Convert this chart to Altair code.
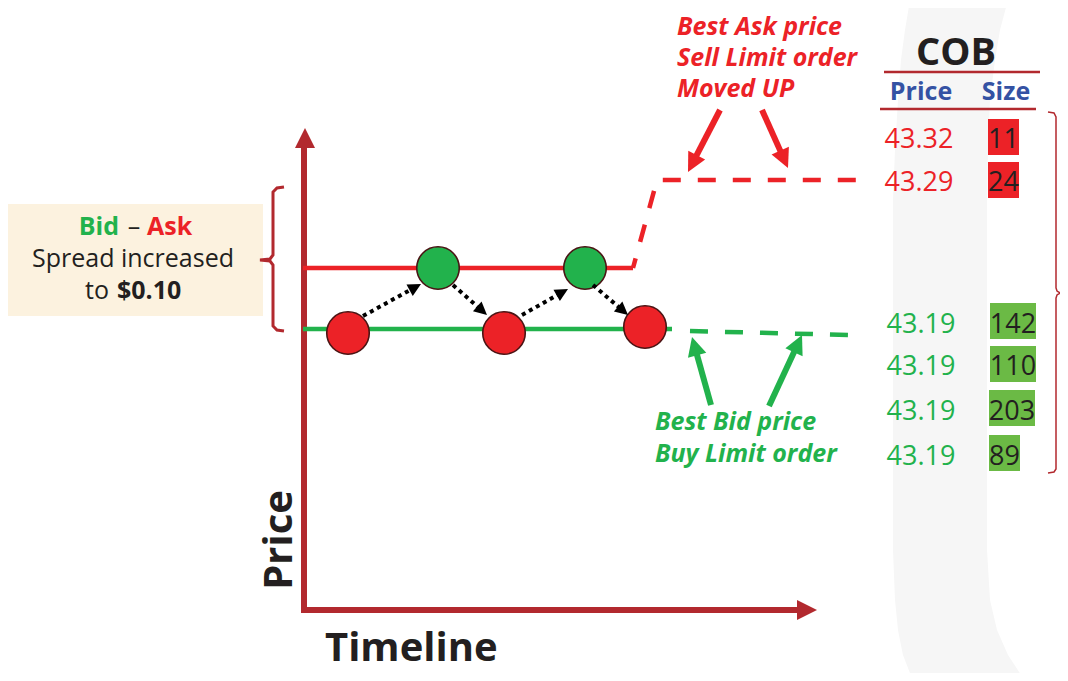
import altair as alt
import pandas as pd
import numpy as np

# ---------------- colours ----------------
RED = "#ec2227"
GREEN = "#22b24c"
BOX_GREEN = "#6bba45"
AXIS_RED = "#b2292e"
BLUE = "#3452a3"
DARK = "#231f20"
BEIGE = "#fcf2df"
BAND = "#f6f6f6"
FONT = "Open Sans"

# ---------------- data (diagram units = picture pixels) ----------------
# light background band on the right
band_y = [0, 30, 60, 100, 150, 200, 550, 600, 630, 655, 681]
band_left = [910, 905, 901, 898, 895, 893, 893, 895, 898, 903, 913]
band_right = [1008, 1000, 995, 990, 988, 987, 987, 990, 997, 1008, 1025]

# price / time axes
axis_x = [304, 304, 798]
axis_y = [146, 610, 610]
axis_tip_x = [305, 817]
axis_tip_y = [128, 610]
axis_tip_angle = [0, 90]

# best ask (old level solid, new level dashed) and best bid
ask_old_x = [303, 633]
ask_old_y = [268, 268]
ask_new_x = [633, 657, 857]
ask_new_y = [268, 180, 180]
bid_old_x = [303, 672]
bid_old_y = [329, 329]
bid_new_x = [690, 848]
bid_new_y = [331, 335]

# order circles
order_x = [348, 438, 504, 585, 645]
order_y = [333, 268, 333, 268, 327]
order_col = [RED, GREEN, RED, GREEN, RED]

# dotted hops between orders
hop_x0 = [363, 453, 522, 593]
hop_y0 = [316, 285, 315, 285]
hop_x1 = [421, 487, 568, 628]
hop_y1 = [284, 315, 289, 315]

# callout arrows
call_x0 = [720, 762, 711, 769]
call_y0 = [110, 110, 405, 406]
call_x1 = [688, 788, 692, 802]
call_y1 = [172, 168, 337, 335]
call_col = [RED, RED, GREEN, GREEN]

# braces
lbrace_x = [284, 277, 273, 273, 270, 260, 270, 273, 273, 277, 284]
lbrace_y = [187, 188, 192, 255, 259, 260, 261, 265, 326, 330, 331]
rbrace_x = [1048, 1054, 1056, 1056, 1057, 1060, 1057, 1056, 1056, 1054, 1048]
rbrace_y = [112, 113, 117, 288, 291, 293, 295, 298, 469, 472, 473]

# COB table
cob_price = ["43.32", "43.29", "43.19", "43.19", "43.19", "43.19"]
cob_size = ["11", "24", "142", "110", "203", "89"]
cob_side = ["ask", "ask", "bid", "bid", "bid", "bid"]
cob_baseline = [148, 191, 333, 375, 420, 465]
cob_price_x = [919, 919, 921, 921, 921, 921]
box_x1 = [988, 988, 990, 990, 989, 989]
box_x2 = [1019, 1019, 1036, 1036, 1035, 1020]
box_y1 = [119, 162, 303, 346, 390, 435]
box_y2 = [155, 198, 339, 382, 426, 471]
rule_x1 = [884, 880]
rule_x2 = [1040, 1036]
rule_y = [72, 109]

# spread box
spread_box = dict(x1=8, x2=263, y1=204, y2=316)

# ---------------- scales ----------------
W, H = 1052, 665
xs = alt.Scale(domain=[8, 1060], nice=False, zero=False)
ys = alt.Scale(domain=[8, 673], nice=False, zero=False, reverse=True)


def X(f="x"):
    return alt.X(f"{f}:Q", scale=xs, axis=None)


def Y(f="y"):
    return alt.Y(f"{f}:Q", scale=ys, axis=None)


def polyline(xv, yv, color, width, dash=None, cap="butt", offset=None):
    df = pd.DataFrame({"x": xv, "y": yv, "i": list(range(len(xv)))})
    kw = dict(color=color, strokeWidth=width, strokeCap=cap, strokeJoin="miter")
    if dash:
        kw["strokeDash"] = dash
    if offset is not None:
        kw["strokeDashOffset"] = offset
    return alt.Chart(df).mark_line(**kw).encode(x=X(), y=Y(), order=alt.Order("i:Q"))


def segments(x0, y0, x1, y1, color, width, dash=None):
    rows = []
    for k in range(len(x0)):
        rows.append({"id": k, "i": 0, "x": x0[k], "y": y0[k]})
        rows.append({"id": k, "i": 1, "x": x1[k], "y": y1[k]})
    df = pd.DataFrame(rows)
    kw = dict(strokeWidth=width, strokeCap="butt")
    if dash:
        kw["strokeDash"] = dash
    enc = dict(x=X(), y=Y(), detail="id:N", order=alt.Order("i:Q"))
    if isinstance(color, list):
        df["c"] = [color[r["id"]] for r in rows]
        enc["color"] = alt.Color("c:N", scale=None)
    else:
        kw["color"] = color
    return alt.Chart(df).mark_line(**kw).encode(**enc)


HEAD = "M0,0L-1,2L1,2Z"  # tip at origin, pointing up


def arrow_parts(x0, y0, x1, y1, head_px):
    ang, sx, sy = [], [], []
    for a, b, c, d in zip(x0, y0, x1, y1):
        dx, dy = c - a, d - b
        L = np.hypot(dx, dy)
        ang.append(float(np.degrees(np.arctan2(dx, -dy)) % 360))
        sx.append(c - dx / L * head_px * 0.8)
        sy.append(d - dy / L * head_px * 0.8)
    return ang, sx, sy


def heads(xv, yv, ang, color, px):
    df = pd.DataFrame({"x": xv, "y": yv, "a": ang})
    enc = dict(x=X(), y=Y(), angle=alt.Angle("a:Q", scale=None))
    kw = dict(shape=HEAD, filled=True, size=px * px, opacity=1, strokeWidth=0)
    if isinstance(color, list):
        df["c"] = color
        enc["color"] = alt.Color("c:N", scale=None)
    else:
        kw["color"] = color
    return alt.Chart(df).mark_point(**kw).encode(**enc)


def text(t, x, y, color, size, weight="normal", style="normal", align="left", angle=0):
    df = pd.DataFrame({"x": [x], "y": [y], "t": [t]})
    kw = dict(font=FONT, fontSize=size, fontWeight=weight, fontStyle=style,
              align=align, baseline="alphabetic", color=color)
    if angle:
        kw["angle"] = angle
    return alt.Chart(df).mark_text(**kw).encode(x=X(), y=Y(), text="t:N")


layers = []

# background band
band_df = pd.DataFrame({"y": band_y, "xl": band_left, "xr": band_right})
layers.append(alt.Chart(band_df).mark_area(orient="horizontal", color=BAND).encode(
    y=Y(), x=X("xl"), x2=alt.X2("xr:Q")))

# spread box
sb = pd.DataFrame([spread_box])
layers.append(alt.Chart(sb).mark_rect(color=BEIGE).encode(
    x=X("x1"), x2=alt.X2("x2:Q"), y=Y("y1"), y2=alt.Y2("y2:Q")))

# braces
layers.append(polyline(lbrace_x, lbrace_y, AXIS_RED, 3))
layers.append(polyline(rbrace_x, rbrace_y, AXIS_RED, 1.5))

# axes
layers.append(polyline(axis_x, axis_y, AXIS_RED, 6))
layers.append(heads(axis_tip_x, axis_tip_y, axis_tip_angle, AXIS_RED, 20))

# bid/ask lines
layers.append(polyline(ask_old_x, ask_old_y, RED, 4.5))
layers.append(polyline(ask_new_x, ask_new_y, RED, 4.5, dash=[18, 17], offset=8))
layers.append(polyline(bid_old_x, bid_old_y, GREEN, 4.5))
layers.append(polyline(bid_new_x, bid_new_y, GREEN, 4.5, dash=[18, 17]))

# order circles
ord_df = pd.DataFrame({"x": order_x, "y": order_y, "c": order_col})
layers.append(alt.Chart(ord_df).mark_circle(size=1810, opacity=1, stroke="#4a1414", strokeWidth=1.6).encode(
    x=X(), y=Y(), color=alt.Color("c:N", scale=None)))

# dotted hops
ha, hsx, hsy = arrow_parts(hop_x0, hop_y0, hop_x1, hop_y1, 13)
layers.append(segments(hop_x0, hop_y0, hsx, hsy, "#000000", 4, dash=[4, 4]))
layers.append(heads(hop_x1, hop_y1, ha, "#000000", 13))

# callout arrows
ca, csx, csy = arrow_parts(call_x0, call_y0, call_x1, call_y1, 19)
layers.append(segments(call_x0, call_y0, csx, csy, call_col, 6))
layers.append(heads(call_x1, call_y1, ca, call_col, 19))

# COB rules
rule_df = pd.DataFrame({"x1": rule_x1, "x2": rule_x2, "y": rule_y})
layers.append(alt.Chart(rule_df).mark_rule(color=AXIS_RED, strokeWidth=2.5).encode(
    x=X("x1"), x2=alt.X2("x2:Q"), y=Y()))

# COB size boxes
box_df = pd.DataFrame({"x1": box_x1, "x2": box_x2, "y1": box_y1, "y2": box_y2,
                       "c": [RED if s == "ask" else BOX_GREEN for s in cob_side]})
layers.append(alt.Chart(box_df).mark_rect().encode(
    x=X("x1"), x2=alt.X2("x2:Q"), y=Y("y1"), y2=alt.Y2("y2:Q"),
    color=alt.Color("c:N", scale=None)))

# COB texts
for k in range(len(cob_price)):
    col = RED if cob_side[k] == "ask" else GREEN
    layers.append(text(cob_price[k], cob_price_x[k], cob_baseline[k], col, 27, align="center"))
    layers.append(text(cob_size[k], (box_x1[k] + box_x2[k]) / 2, cob_baseline[k], DARK, 27, align="center"))

layers.append(text("COB", 956, 65, DARK, 38, weight="bold", align="center"))
layers.append(text("Price", 921, 100, BLUE, 25, weight="bold", align="center"))
layers.append(text("Size", 1006, 100, BLUE, 25, weight="bold", align="center"))

# callout texts
for t, yb in zip(["Best Ask price", "Sell Limit order", "Moved UP"], [35, 66, 97]):
    layers.append(text(t, 677, yb, RED, 25, weight="bold", style="italic"))
for t, yb in zip(["Best Bid price", "Buy Limit order"], [430, 462]):
    layers.append(text(t, 655, yb, GREEN, 25, weight="bold", style="italic"))

# spread box texts
layers.append(text("Bid", 119, 235, GREEN, 25, weight="bold", align="right"))
layers.append(text("–", 134, 235, DARK, 25, align="center"))
layers.append(text("Ask", 147, 235, RED, 25, weight="bold"))
layers.append(text("Spread increased", 133, 267, DARK, 25, align="center"))
layers.append(text("to", 85, 299, DARK, 25))
layers.append(text("$0.10", 117, 299, DARK, 25, weight="bold"))

# axis titles
layers.append(text("Price", 292, 540, DARK, 40, weight="bold", align="center", angle=270))
layers.append(text("Timeline", 325, 661, DARK, 40, weight="bold"))

chart = alt.layer(*layers).properties(
    width=W, height=H, padding=0, autosize=alt.AutoSizeParams(type="none"),
    background="white",
).configure_view(stroke=None)

chart.save("out.html", embed_options={"renderer": "svg", "actions": False})
